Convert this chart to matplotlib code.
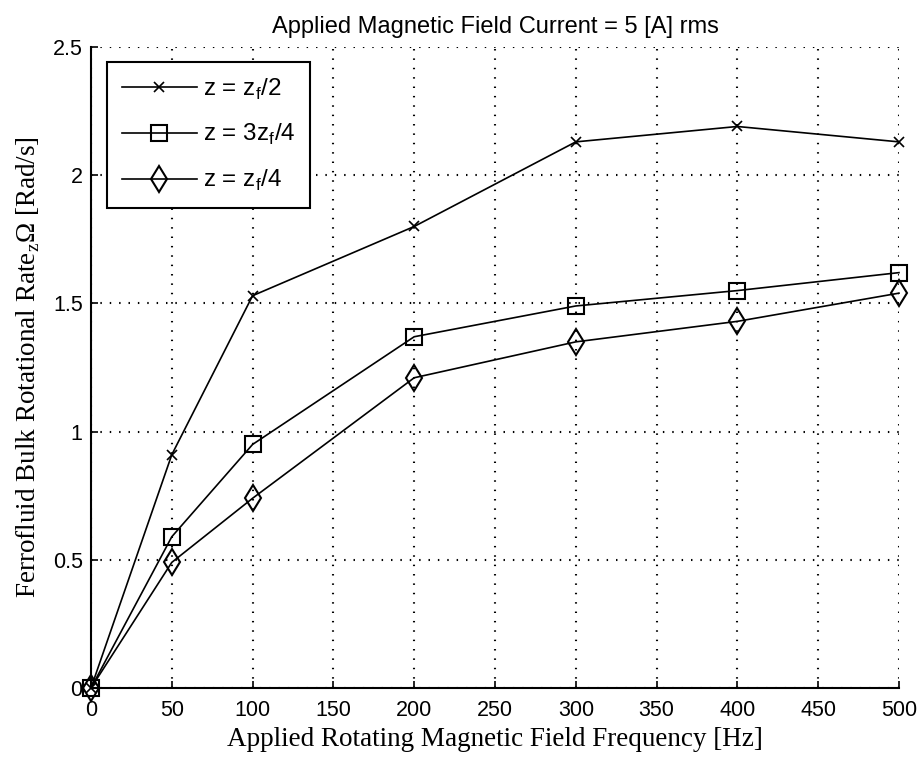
import matplotlib
matplotlib.use("Agg")
import matplotlib.pyplot as plt

# Data
freq_hz = [0, 50, 100, 200, 300, 400, 500]
rate_half = [0.0, 0.91, 1.53, 1.80, 2.13, 2.19, 2.13]
rate_three_quarter = [0.0, 0.59, 0.95, 1.37, 1.49, 1.55, 1.62]
rate_quarter = [0.0, 0.49, 0.74, 1.21, 1.35, 1.43, 1.54]

series_labels = [r"z = z$_\mathregular{f}$/2",
                 r"z = 3z$_\mathregular{f}$/4",
                 r"z = z$_\mathregular{f}$/4"]
x_ticks = [0, 50, 100, 150, 200, 250, 300, 350, 400, 450, 500]
y_ticks = [0, 0.5, 1, 1.5, 2, 2.5]
y_tick_labels = ["0", "0.5", "1", "1.5", "2", "2.5"]

title_text = "Applied Magnetic Field Current = 5 [A] rms"
x_label_text = "Applied Rotating Magnetic Field Frequency [Hz]"
y_label_text = r"Ferrofluid Bulk Rotational Rate$_{\mathregular{z}}$Ω [Rad/s]"

sans = "Liberation Sans"
serif = "Liberation Serif"

fig = plt.figure(figsize=(9.22, 7.61), dpi=100)
ax = fig.add_axes([91 / 922, 1 - 688 / 761, 808 / 922, 641 / 761])

ax.plot(freq_hz, rate_half, color="black", lw=1.2, marker="x",
        markersize=7, markeredgewidth=1.2, label=series_labels[0],
        clip_on=False, zorder=3)
ax.plot(freq_hz, rate_three_quarter, color="black", lw=1.2, marker="s",
        markersize=11, markerfacecolor="none", markeredgewidth=1.5,
        label=series_labels[1], clip_on=False, zorder=3)
ax.plot(freq_hz, rate_quarter, color="black", lw=1.2, marker="d",
        markersize=13, markerfacecolor="none", markeredgewidth=1.5,
        label=series_labels[2], clip_on=False, zorder=3)

ax.set_xlim(0, 500)
ax.set_ylim(0, 2.5)
ax.set_xticks(x_ticks)
ax.set_yticks(y_ticks)
ax.set_yticklabels(y_tick_labels)

ax.grid(True, color="black", linestyle=(0, (0.7, 3.8)), linewidth=1.5)
ax.set_axisbelow(True)

for side in ("top", "right"):
    ax.spines[side].set_visible(False)
for side in ("left", "bottom"):
    ax.spines[side].set_linewidth(1.5)

ax.tick_params(direction="in", length=5, width=1.2, labelsize=15.5)
ax.tick_params(axis="x", pad=9)
ax.tick_params(axis="y", pad=6)
for lab in ax.get_xticklabels() + ax.get_yticklabels():
    lab.set_fontfamily(sans)

ax.set_title(title_text, fontfamily=sans, fontsize=17, pad=10)
ax.set_xlabel(x_label_text, fontfamily=serif, fontsize=19.5, labelpad=4)
ax.set_ylabel(y_label_text, fontfamily=serif, fontsize=19.5, labelpad=8)

leg = ax.legend(loc="upper left", bbox_to_anchor=(0.0198, 0.977),
                borderaxespad=0, fancybox=False, framealpha=1,
                edgecolor="black", prop={"family": sans, "size": 17.5},
                handlelength=3.1, labelspacing=0.85, borderpad=0.6,
                handletextpad=0.25)
leg.get_frame().set_linewidth(1.5)

fig.savefig("out.png", dpi=100)
